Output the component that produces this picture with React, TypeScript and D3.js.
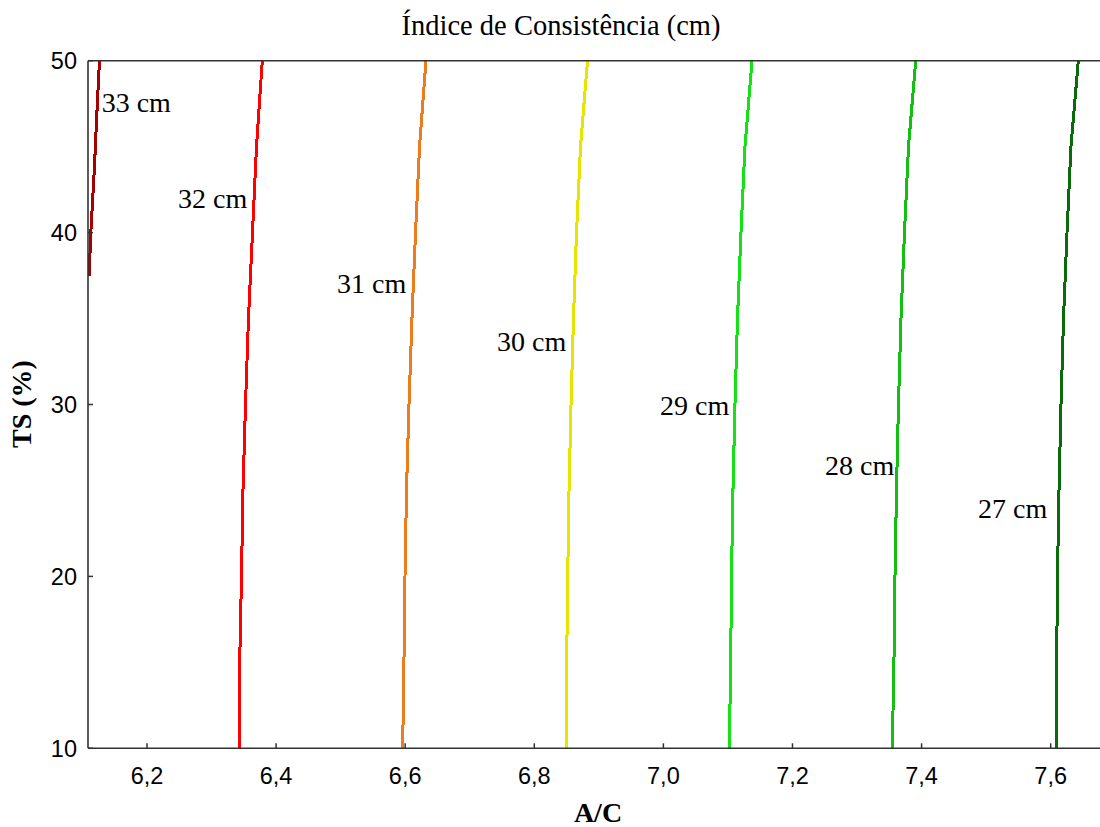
import React from "react";
import * as d3 from "d3";

// ---- data ----
const xTicks = [6.2, 6.4, 6.6, 6.8, 7.0, 7.2, 7.4, 7.6];
const yTicks = [10, 20, 30, 40, 50];

const tsLevels = [10, 15, 20, 25, 30, 35, 40, 45, 50];
const ac32 = [6.3436, 6.3436, 6.3464, 6.3487, 6.3526, 6.3572, 6.3634, 6.3696, 6.3786];
const ac31 = [6.5961, 6.5981, 6.5997, 6.602, 6.6059, 6.6105, 6.616, 6.6222, 6.6322];
const ac30 = [6.8502, 6.8502, 6.8518, 6.8538, 6.8569, 6.8607, 6.8654, 6.8716, 6.8824];
const ac29 = [7.1021, 7.1043, 7.1055, 7.1078, 7.1109, 7.1148, 7.1202, 7.1264, 7.1373];
const ac28 = [7.3546, 7.3572, 7.3588, 7.3611, 7.3642, 7.3681, 7.3735, 7.3797, 7.3909];
const ac27 = [7.6093, 7.6093, 7.6105, 7.6129, 7.616, 7.6199, 7.6253, 7.6314, 7.6428];
const ts33 = [37.5, 39.7, 41.8, 43.9, 46.1, 48.3, 50];
const ac33 = [6.1106, 6.1125, 6.1156, 6.1187, 6.1213, 6.1241, 6.1264];

const contourLabels = ["33 cm", "32 cm", "31 cm", "30 cm", "29 cm", "28 cm", "27 cm"];
const labelAC = [6.1298, 6.248, 6.4943, 6.7422, 6.9947, 7.2504, 7.4874];
const labelTS = [47.03, 41.43, 36.5, 33.13, 29.41, 25.92, 23.42];

const contourColors = ["#a80000", "#ff0000", "#eb7d1e", "#e5e500", "#14e214", "#14bf14", "#0b6b0b"];

export default function App() {
  const W = 1100;
  const H = 827;
  const left = 88, right = 1100, top = 60.7, bottom = 748.3;

  const x = d3.scaleLinear().domain([6.1086, 7.6764]).range([left, right]);
  const y = d3.scaleLinear().domain([10, 50]).range([bottom, top]);

  const series: { ts: number[]; ac: number[] }[] = [
    { ts: ts33, ac: ac33 },
    { ts: tsLevels, ac: ac32 },
    { ts: tsLevels, ac: ac31 },
    { ts: tsLevels, ac: ac30 },
    { ts: tsLevels, ac: ac29 },
    { ts: tsLevels, ac: ac28 },
    { ts: tsLevels, ac: ac27 },
  ];

  const line = d3
    .line<[number, number]>()
    .x((d) => x(d[1]))
    .y((d) => y(d[0]));

  const fmt = (v: number) => v.toFixed(1).replace(".", ",");
  const serif = "'Liberation Serif', 'Times New Roman', serif";
  const sans = "'Liberation Sans', Arial, sans-serif";
  const axisColor = "#333";

  return (
    <svg
      width={W}
      height={H}
      style={{ position: "absolute", left: 0, top: 0, display: "block", background: "#fff" }}
    >
      <defs>
        <clipPath id="plotClip">
          <rect x={left} y={top} width={right - left} height={bottom - top} />
        </clipPath>
      </defs>
      <rect x={0} y={0} width={W} height={H} fill="#fff" />

      {/* title */}
      <text x={561} y={35} textAnchor="middle" fontFamily={serif} fontSize={28.5} fill="#000">
        Índice de Consistência (cm)
      </text>

      {/* contour lines */}
      <g clipPath="url(#plotClip)">
        {series.map((s, i) => (
          <path
            key={i}
            d={line(s.ts.map((t, j) => [t, s.ac[j]] as [number, number])) || ""}
            fill="none"
            stroke={contourColors[i]}
            strokeWidth={3}
            shapeRendering="crispEdges"
          />
        ))}
      </g>

      {/* contour labels */}
      {contourLabels.map((lab, i) => (
        <text
          key={lab}
          x={x(labelAC[i])}
          y={y(labelTS[i])}
          fontFamily={serif}
          fontSize={28}
          fill="#000"
        >
          {lab}
        </text>
      ))}

      {/* frame */}
      <line x1={left} x2={right} y1={top} y2={top} stroke={axisColor} strokeWidth={1.6} />
      <line x1={left} x2={right} y1={bottom} y2={bottom} stroke={axisColor} strokeWidth={1.6} />
      <line x1={left} x2={left} y1={top} y2={bottom} stroke={axisColor} strokeWidth={1.6} />

      {/* x ticks */}
      {xTicks.map((t) => (
        <g key={t}>
          <line x1={x(t)} x2={x(t)} y1={bottom} y2={bottom - 5} stroke={axisColor} strokeWidth={1.5} />
          <text x={x(t)} y={784} textAnchor="middle" fontFamily={sans} fontSize={23.5} fill="#000">
            {fmt(t)}
          </text>
        </g>
      ))}

      {/* y ticks */}
      {yTicks.map((t) => (
        <g key={t}>
          <line x1={left} x2={left + 5} y1={y(t)} y2={y(t)} stroke={axisColor} strokeWidth={1.5} />
          <text
            x={77}
            y={y(t)}
            dy="0.36em"
            textAnchor="end"
            fontFamily={sans}
            fontSize={23.5}
            fill="#000"
          >
            {t}
          </text>
        </g>
      ))}

      {/* axis titles */}
      <text x={598} y={822} textAnchor="middle" fontFamily={serif} fontWeight="bold" fontSize={28} fill="#000">
        A/C
      </text>
      <text
        transform={`translate(31, 404) rotate(-90)`}
        textAnchor="middle"
        fontFamily={serif}
        fontWeight="bold"
        fontSize={28}
        fill="#000"
      >
        TS (%)
      </text>
    </svg>
  );
}
